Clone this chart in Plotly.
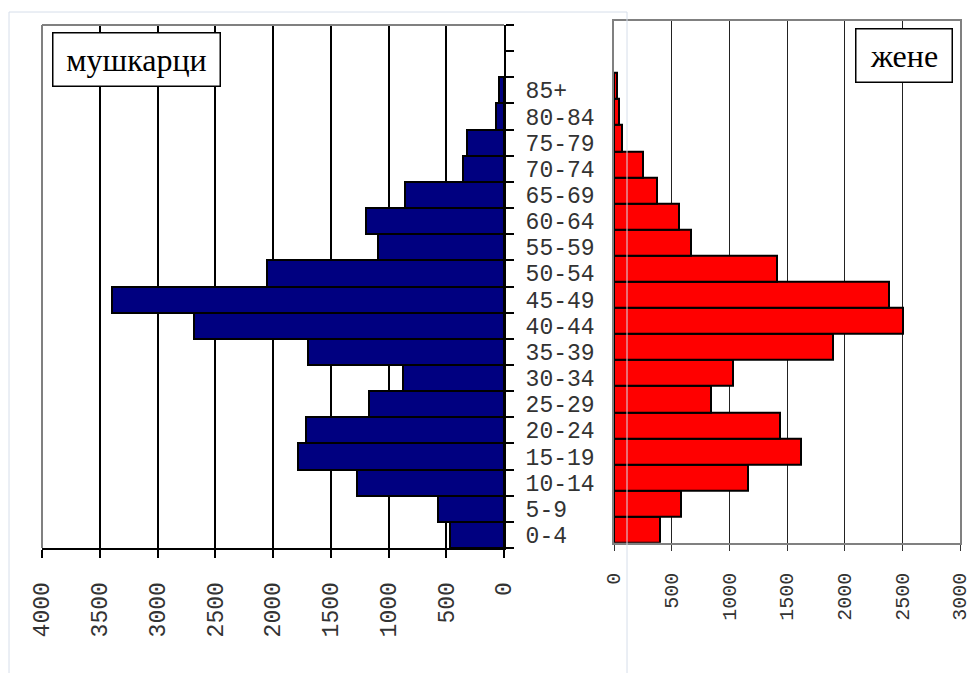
import plotly.graph_objects as go

# ---- data ----
age_groups = ["0-4", "5-9", "10-14", "15-19", "20-24", "25-29", "30-34", "35-39",
              "40-44", "45-49", "50-54", "55-59", "60-64", "65-69", "70-74", "75-79",
              "80-84", "85+"]
male = [468, 574, 1270, 1786, 1717, 1166, 877, 1694, 2681, 3394, 2055, 1088,
        1197, 857, 358, 323, 70, 40]
female = [399, 584, 1162, 1624, 1439, 844, 1029, 1902, 2503, 2387, 1416, 668,
          566, 370, 254, 69, 46, 25]
male_ticks = [0, 500, 1000, 1500, 2000, 2500, 3000, 3500, 4000]
female_ticks = [0, 500, 1000, 1500, 2000, 2500, 3000]
n_slots = 20  # 18 age groups + 2 empty slots at the top
male_label = "мушкарци"
female_label = "жене"

W, H = 968, 673
def px_x(p):
    return p / W
def px_y(p):
    return (H - p) / H

pos = list(range(len(age_groups)))
boundaries = [i - 0.5 for i in range(n_slots + 1)]

MONO = "Liberation Mono, Courier New, monospace"
SERIF = "Liberation Serif, Times New Roman, serif"
TXT = "#333333"

fig = go.Figure()
fig.add_trace(go.Bar(x=male, y=pos, orientation="h", xaxis="x", yaxis="y",
                     marker=dict(color="#000080", line=dict(color="black", width=2)),
                     showlegend=False))
fig.add_trace(go.Bar(x=female, y=pos, orientation="h", xaxis="x2", yaxis="y2",
                     marker=dict(color="#FF0000", line=dict(color="black", width=2)),
                     showlegend=False))

fig.update_layout(
    width=W, height=H,
    margin=dict(l=0, r=0, t=0, b=0, autoexpand=False),
    paper_bgcolor="white", plot_bgcolor="white",
    bargap=0,
    xaxis=dict(domain=[px_x(42), px_x(504)], range=[4000, 0], anchor="y",
               automargin=False, ticklabeloverflow="allow",
               tickmode="array", tickvals=male_ticks, ticktext=[str(v) for v in male_ticks],
               tickangle=-90, ticks="outside", ticklen=8, tickwidth=2, tickcolor="black",
               showline=True, linecolor="black", linewidth=2,
               showgrid=True, gridcolor="black", gridwidth=1.5, zeroline=False,
               tickfont=dict(family=MONO, size=23, color=TXT), ticklabelstandoff=15),
    yaxis=dict(domain=[px_y(548), px_y(25)], range=[-0.5, n_slots - 0.5], anchor="x",
               automargin=False, ticklabeloverflow="allow",
               side="right", tickmode="array", tickvals=pos, ticktext=age_groups,
               ticks="", showline=True, linecolor="black", linewidth=2,
               minor=dict(tickmode="array", tickvals=boundaries, ticks="outside",
                          ticklen=8, tickwidth=2, tickcolor="black", showgrid=False),
               showgrid=False, zeroline=False,
               tickfont=dict(family=MONO, size=23, color=TXT), ticklabelstandoff=15),
    xaxis2=dict(domain=[px_x(614), px_x(960)], range=[0, 3000], anchor="y2",
                automargin=False, ticklabeloverflow="allow",
                tickmode="array", tickvals=female_ticks, ticktext=[str(v) for v in female_ticks],
                tickangle=-90, ticks="outside", ticklen=6, tickwidth=1, tickcolor="#333333",
                showline=True, mirror=True, linecolor="#808080", linewidth=2,
                showgrid=True, gridcolor="#222222", gridwidth=1, zeroline=False,
                tickfont=dict(family=MONO, size=20, color=TXT), ticklabelstandoff=14),
    yaxis2=dict(domain=[px_y(542.7), px_y(20.7)], range=[-0.5, n_slots - 0.5], anchor="x2",
                automargin=False,
                showticklabels=False, ticks="", showline=True, mirror=True,
                linecolor="#808080", linewidth=2, showgrid=False, zeroline=False),
)

# gray plot-area border of the left panel (top and left sides)
fig.add_shape(type="line", xref="x domain", yref="y domain", x0=0, x1=1, y0=1, y1=1,
              line=dict(color="#808080", width=2))
fig.add_shape(type="line", xref="x domain", yref="y domain", x0=0, x1=0, y0=0, y1=1,
              line=dict(color="#808080", width=2))

# faint outer chart frame
frame = dict(color="#d6deea", width=1)
fig.add_shape(type="line", xref="paper", yref="paper", x0=px_x(9), x1=px_x(9),
              y0=px_y(12), y1=0, line=frame)
fig.add_shape(type="line", xref="paper", yref="paper", x0=px_x(9), x1=px_x(627),
              y0=px_y(12), y1=px_y(12), line=frame)
fig.add_shape(type="line", xref="paper", yref="paper", x0=px_x(627), x1=px_x(627),
              y0=px_y(12), y1=0, line=frame)

# panel labels
fig.add_annotation(text=male_label, xref="paper", yref="paper",
                   x=px_x(52), y=px_y(32), xanchor="left", yanchor="top",
                   showarrow=False, width=166, height=52, borderpad=0,
                   bordercolor="black", borderwidth=1.5, bgcolor="white",
                   font=dict(family=SERIF, size=32, color="black"))
fig.add_annotation(text=female_label, xref="paper", yref="paper",
                   x=px_x(855), y=px_y(28), xanchor="left", yanchor="top",
                   showarrow=False, width=95, height=52, borderpad=0,
                   bordercolor="black", borderwidth=1.5, bgcolor="white",
                   font=dict(family=SERIF, size=32, color="black"))

# remove the default page margin so the figure fills the window exactly
fig.write_html("out.html",
               config={"displayModeBar": False},
               post_script="document.body.style.margin='0';"
                           "document.body.style.overflow='hidden';")
